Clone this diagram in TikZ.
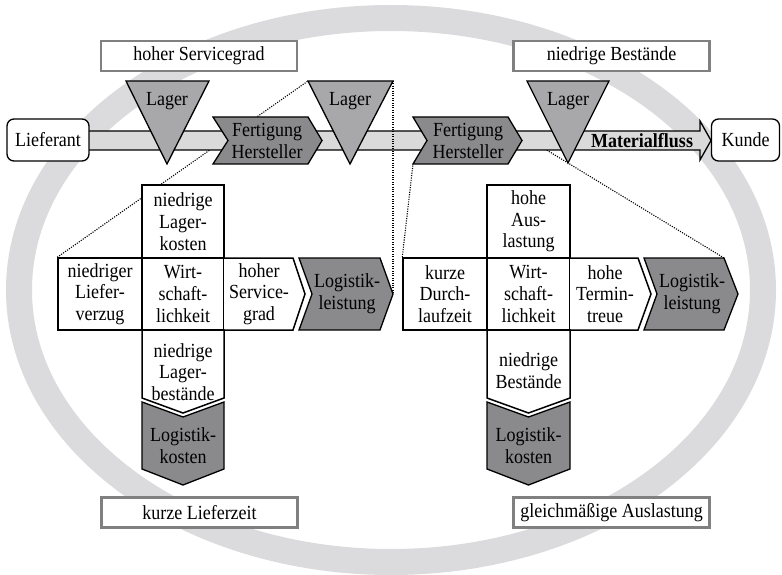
\documentclass[tikz,border=0pt]{standalone}
\usepackage{fontspec}
\setmainfont[FakeStretch=0.9]{Liberation Serif}
\usetikzlibrary{calc}
\pgfdeclarelayer{background}
\pgfsetlayers{background,main}

\definecolor{ringgray}{RGB}{219,219,221}
\definecolor{bandgray}{RGB}{218,218,219}
\definecolor{lagergray}{RGB}{168,168,170}
\definecolor{darkfill}{RGB}{138,138,140}
\definecolor{framegray}{RGB}{128,128,128}

\begin{document}
\begin{tikzpicture}[x=1pt,y=-1pt,
  every node/.style={font=\fontsize{20}{21.7}\selectfont, align=center, inner sep=0pt},
  goalbox/.style={draw=framegray, line width=2.6pt, fill=white,
                  minimum width=196pt, minimum height=30pt},
  endbox/.style={draw, line width=1.3pt, rounded corners=7pt, fill=white,
                 minimum height=42pt},
  ring/.style={draw=ringgray, line width=26pt},
  flow/.style={draw, line width=1.3pt, fill=bandgray},
  lagerstyle/.style={draw, line width=1.3pt, fill=lagergray},
  darkshape/.style={draw, line width=1.3pt, fill=darkfill},
  cell/.style={draw, line width=1.5pt, fill=white},
  zoomline/.style={line width=1.1pt, dash pattern=on 1.1pt off 1.3pt}
]
\useasboundingbox (0,0) rectangle (782,575);

% target boxes
\node[goalbox] (goal-service)  at (199,56)    {hoher Servicegrad};
\node[goalbox] (goal-stock)    at (611.5,56)  {niedrige Bestände};
\node[goalbox] (goal-leadtime) at (199.5,512.5) {kurze Lieferzeit};
\node[goalbox] (goal-util)     at (611.5,512.5) {gleichmäßige Auslastung};

% material flow band with arrow head
\filldraw[flow] (89,131) -- (700,131) -- (700,121) -- (711,140.5)
  -- (700,160) -- (700,150) -- (89,150);
\node[font=\fontsize{20}{21.7}\selectfont\bfseries] (flowlabel) at (642,141) {Materialfluss};

% end points of the chain
\node[endbox, minimum width=82pt] (supplier) at (48,140) {Lieferant};
\node[endbox, minimum width=68pt] (customer) at (745.5,140) {Kunde};

% zoom line from the second store down to the cost/performance cross
\coordinate (lager2-nw) at (308,81);
\coordinate (lager2-ne) at (393,81);
\coordinate (fert2-sw) at (413,164);
\coordinate (fert2-out) at (531,140.5);
\coordinate (lperf-tip) at (393,294);
\coordinate (rperf-ne) at (724,258);
\draw[zoomline] (lager2-ne) -- (lperf-tip);

% stores
\draw[lagerstyle] (126,81) -- (209,81) -- (167,164) -- cycle;
\node (lager1) at (167,101) {Lager};
\draw[lagerstyle] (308,81) -- (393,81) -- (350,164) -- cycle;
\node (lager2) at (350,101) {Lager};
\draw[lagerstyle] (527,81) -- (609,81) -- (568,163) -- cycle;
\node (lager3) at (568,101) {Lager};

% production steps
\draw[darkshape] (213,117) -- (308,117) -- (322,140.5) -- (308,164) -- (213,164) -- (228,140.5) -- cycle;
\node (fert1) at (267,141) {Fertigung\\Hersteller};
\draw[darkshape] (413,117) -- (508,117) -- (522,140.5) -- (508,164) -- (413,164) -- (427,140.5) -- cycle;
\node (fert2) at (468,141) {Fertigung\\Hersteller};

% ---- left cross: store logistics ----
\node[cell, minimum width=82pt, minimum height=73pt] (l-top) at (183,221.5) {niedrige\\Lager-\\kosten};
\node[cell, minimum width=84pt, minimum height=72pt] (l-left) at (100,294) {niedriger\\Liefer-\\verzug};
\node[cell, minimum width=82pt, minimum height=72pt] (l-mid) at (183,294) {Wirt-\\schaft-\\lichkeit};
\draw[cell] (224,258) -- (293,258) -- (305,294) -- (293,330) -- (224,330);
\node (l-right) at (259,294) {hoher\\Service-\\grad};
\draw[darkshape] (299,258) -- (380,258) -- (393,294) -- (380,330) -- (299,330) -- (312,294) -- cycle;
\node (l-perf) at (347,294) {Logistik-\\leistung};
\draw[cell] (142,330) -- (224,330) -- (224,398) -- (183,413) -- (142,398) -- cycle;
\node (l-bottom) at (183,372) {niedrige\\Lager-\\bestände};
\draw[darkshape] (142,402) -- (183,417) -- (224,402) -- (224,469) -- (183,485) -- (142,469) -- cycle;
\node (l-cost) at (183,446) {Logistik-\\kosten};

% ---- right cross: production logistics ----
\node[cell, minimum width=83pt, minimum height=73pt] (r-top) at (528.5,221.5) {hohe\\Aus-\\lastung};
\node[cell, minimum width=84pt, minimum height=72pt] (r-left) at (445,294) {kurze\\Durch-\\laufzeit};
\node[cell, minimum width=83pt, minimum height=72pt] (r-mid) at (528.5,294) {Wirt-\\schaft-\\lichkeit};
\draw[cell] (570,258) -- (638,258) -- (651,294) -- (638,330) -- (570,330);
\node (r-right) at (605,294) {hohe\\Termin-\\treue};
\draw[darkshape] (644,258) -- (724,258) -- (738,294) -- (724,330) -- (644,330) -- (657,294) -- cycle;
\node (r-perf) at (692,294) {Logistik-\\leistung};
\draw[cell] (487,330) -- (570,330) -- (570,398) -- (528.5,413) -- (487,398) -- cycle;
\node (r-bottom) at (528.5,371) {niedrige\\Bestände};
\draw[darkshape] (487,402) -- (528.5,417) -- (570,402) -- (570,469) -- (528.5,485) -- (487,469) -- cycle;
\node (r-cost) at (528.5,446) {Logistik-\\kosten};

% background: goal ring and hidden zoom lines
\begin{pgfonlayer}{background}
  \draw[ring] (391,290) ellipse [x radius=372, y radius=272];
  \draw[zoomline] (l-left.north west) -- (lager2-nw);
  \draw[zoomline] (r-left.north west) -- (fert2-sw);
  \draw[zoomline] (rperf-ne) -- (fert2-out);
\end{pgfonlayer}
\end{tikzpicture}
\end{document}
